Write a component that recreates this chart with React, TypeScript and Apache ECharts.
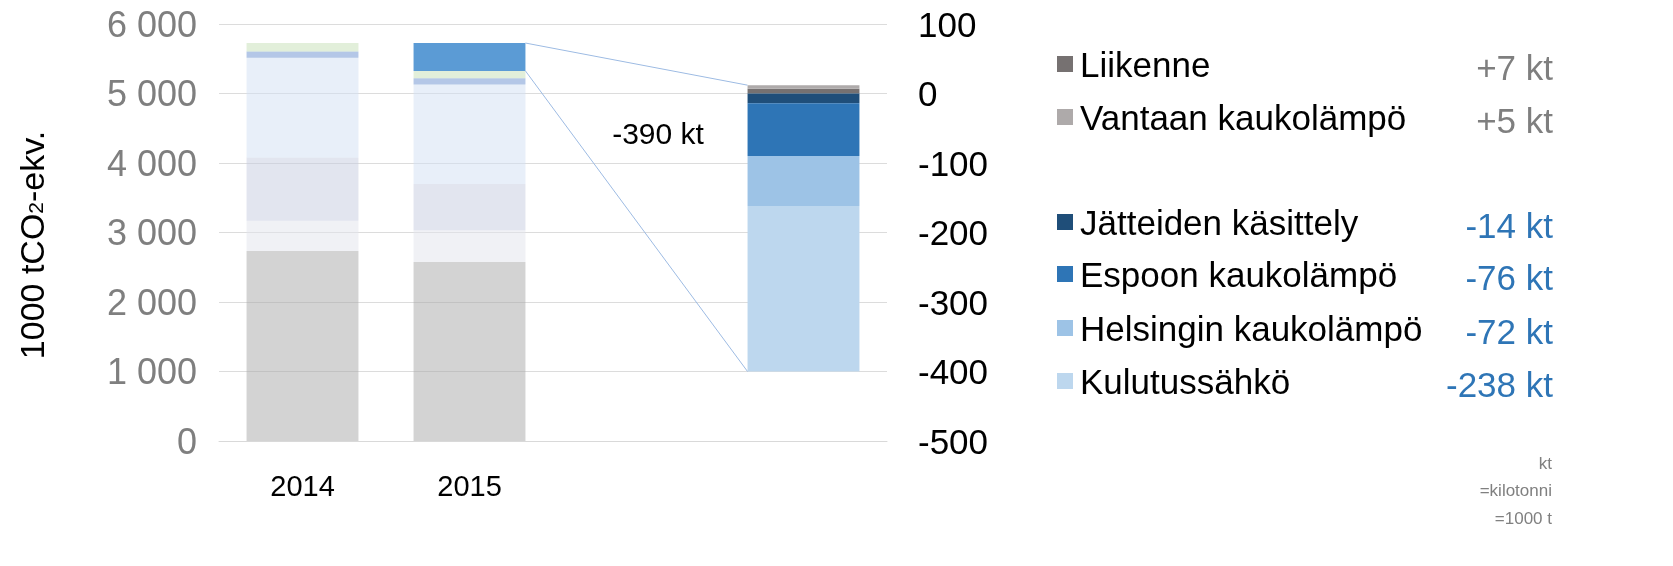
import React, { useEffect, useRef } from 'react';
import * as echarts from 'echarts';

const FONT = 'Liberation Sans, Arial, sans-serif';

const categories = ['2014', '2015', '', ''];

// Faded background stacks (left axis, 1000 tCO2-ekv.)
const bgNames = ['Tausta 1', 'Tausta 2', 'Tausta 3', 'Tausta 4', 'Tausta 5', 'Tausta 6'];
const bg1 = [2735, 2577, null, null];
const bg2 = [433, 454, null, null];
const bg3 = [910, 666, null, null];
const bg4 = [1437, 1433, null, null];
const bg5 = [90, 90, null, null];
const bg6 = [122, 105, null, null];
const reduction = [null, 401, null, null];
const bgColors = [
  'rgba(167,167,167,0.5)',
  'rgba(225,227,235,0.5)',
  'rgba(197,203,223,0.5)',
  'rgba(209,223,243,0.5)',
  'rgba(105,143,207,0.5)',
  'rgba(197,223,181,0.5)',
];
const reductionColor = '#5b9bd5';

// Change bar (right axis, kt)
const changeNames = ['Liikenne', 'Vantaan kaukolämpö', 'Jätteiden käsittely', 'Espoon kaukolämpö', 'Helsingin kaukolämpö', 'Kulutussähkö'];
const changeValues = [7, 5, -14, -76, -72, -238];
const changeColors = ['#767171', '#aeaaaa', '#1f4e79', '#2e75b6', '#9dc3e6', '#bdd7ee'];
const totalLabel = '-390 kt';

const leftTicks = { min: 0, max: 6000, interval: 1000 };
const rightTicks = { min: -500, max: 100, interval: 100 };

const noteLines = ['kt', '=kilotonni', '=1000 t'];

const BAR_W = 0.67;

function fmtThousands(v: number) {
  return String(v).replace(/\B(?=(\d{3})+(?!\d))/g, ' ');
}

export default function App() {
  const ref = useRef<HTMLDivElement>(null);
  useEffect(() => {
    if (!ref.current) return;
    const chart = echarts.init(ref.current, undefined, { renderer: 'svg' });
    const bgData = [bg1, bg2, bg3, bg4, bg5, bg6];
    const series: any[] = [];
    bgData.forEach((d, i) => {
      series.push({
        name: bgNames[i], type: 'bar', stack: 'a', yAxisIndex: 0, data: d,
        barWidth: `${BAR_W * 100}%`, barGap: '-100%',
        itemStyle: { color: bgColors[i] },
      });
    });
    series.push({
      name: 'Vähennys', type: 'bar', stack: 'a', yAxisIndex: 0, data: reduction,
      barWidth: `${BAR_W * 100}%`, barGap: '-100%', itemStyle: { color: reductionColor },
    });
    changeNames.forEach((n, i) => {
      series.push({
        name: n, type: 'bar', stack: 'b', yAxisIndex: 1,
        data: [null, null, null, changeValues[i]],
        barWidth: `${BAR_W * 100}%`, barGap: '-100%', itemStyle: { color: changeColors[i] },
      });
    });

    chart.setOption({
      animation: false,
      textStyle: { fontFamily: FONT },
      grid: { left: 219, right: 786, top: 24, bottom: 125, containLabel: false },
      xAxis: {
        type: 'category', data: categories,
        axisLine: { show: true, lineStyle: { color: '#d9d9d9' } },
        axisTick: { show: false },
        axisLabel: { fontSize: 29, color: '#000', margin: 30, fontFamily: FONT },
      },
      yAxis: [
        {
          type: 'value', ...leftTicks,
          axisLine: { show: false }, axisTick: { show: false },
          splitLine: { lineStyle: { color: '#dcdcdc' } },
          axisLabel: { fontSize: 36, color: '#7f7f7f', margin: 22, fontFamily: FONT, formatter: (v: number) => fmtThousands(v) },
        },
        {
          type: 'value', position: 'right', ...rightTicks,
          axisLine: { show: false }, axisTick: { show: false },
          splitLine: { show: false },
          axisLabel: { fontSize: 35, color: '#000', margin: 31, fontFamily: FONT },
        },
      ],
      series,
    });

    // connectors
    const x0 = chart.convertToPixel({ xAxisIndex: 0, yAxisIndex: 0 }, [0, 0]) as number[];
    const x1 = chart.convertToPixel({ xAxisIndex: 0, yAxisIndex: 0 }, [1, 0]) as number[];
    const band = x1[0] - x0[0];
    const half = (band * BAR_W) / 2;
    const total2015 = [bg1, bg2, bg3, bg4, bg5, bg6, reduction].reduce((s, d) => s + (d[1] || 0), 0);
    const redBottom = total2015 - (reduction[1] || 0);
    const posSum = changeValues.filter(v => v > 0).reduce((a, b) => a + b, 0);
    const negSum = changeValues.filter(v => v < 0).reduce((a, b) => a + b, 0);
    const pTop = chart.convertToPixel({ xAxisIndex: 0, yAxisIndex: 0 }, [1, total2015]) as number[];
    const pBot = chart.convertToPixel({ xAxisIndex: 0, yAxisIndex: 0 }, [1, redBottom]) as number[];
    const qTop = chart.convertToPixel({ xAxisIndex: 0, yAxisIndex: 1 }, [3, posSum]) as number[];
    const qBot = chart.convertToPixel({ xAxisIndex: 0, yAxisIndex: 1 }, [3, negSum]) as number[];
    const lineStyle = { stroke: '#9dbbe3', lineWidth: 1 };

    const graphics: any[] = [
      { type: 'line', shape: { x1: pTop[0] + half, y1: pTop[1], x2: qTop[0] - half, y2: qTop[1] }, style: lineStyle, z: 10 },
      { type: 'line', shape: { x1: pBot[0] + half, y1: pBot[1], x2: qBot[0] - half, y2: qBot[1] }, style: lineStyle, z: 10 },
      {
        type: 'text', x: 658, y: 133, z: 10,
        style: { text: totalLabel, fontSize: 30, fontFamily: FONT, fill: '#000', align: 'center', verticalAlign: 'middle' },
      },
      {
        type: 'text', x: 35, y: 245, rotation: Math.PI / 2, z: 10,
        style: {
          text: '{n|1000 tCO}{s|2}{n|-ekv.}',
          align: 'center', verticalAlign: 'middle',
          rich: {
            n: { fontSize: 34, fontFamily: FONT, fill: '#000', lineHeight: 40, verticalAlign: 'top' },
            s: { fontSize: 21, fontFamily: FONT, fill: '#000', lineHeight: 40, verticalAlign: 'top', padding: [10, 0, 0, 0] },
          },
        },
      },
    ];

    const legendY = [64, 117, 222, 274, 328, 381];
    changeNames.forEach((n, i) => {
      graphics.push({
        type: 'rect', x: 1057, y: legendY[i] - 8, shape: { x: 0, y: 0, width: 16, height: 16 },
        style: { fill: changeColors[i] },
      });
      graphics.push({
        type: 'text', x: 1080, y: legendY[i],
        style: { text: n, fontSize: 35, fontFamily: FONT, fill: '#000', align: 'left', verticalAlign: 'middle' },
      });
      const v = changeValues[i];
      graphics.push({
        type: 'text', x: 1553, y: legendY[i] + 3,
        style: { text: `${v > 0 ? '+' : ''}${v} kt`, fontSize: 35, fontFamily: FONT, fill: v > 0 ? '#7f7f7f' : '#2e75b6', align: 'right', verticalAlign: 'middle' },
      });
    });
    noteLines.forEach((t, i) => {
      graphics.push({
        type: 'text', x: 1552, y: 463 + i * 27.5,
        style: { text: t, fontSize: 17, fontFamily: FONT, fill: '#808080', align: 'right', verticalAlign: 'middle' },
      });
    });

    chart.setOption({ graphic: graphics });
    return () => chart.dispose();
  }, []);
  return <div ref={ref} style={{ position: 'fixed', left: 0, top: 0, width: 1673, height: 566 }} />;
}
